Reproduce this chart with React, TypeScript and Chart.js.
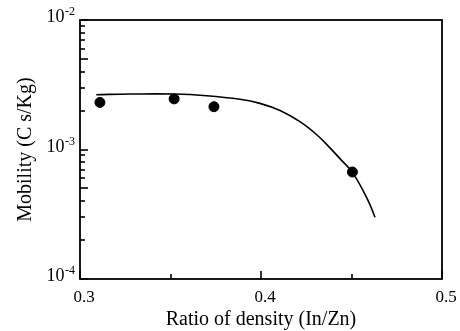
import React, { useEffect, useRef } from "react";
import { Chart, registerables } from "chart.js";

Chart.register(...registerables);

const curveX = [0.309, 0.328, 0.352, 0.37, 0.3884, 0.3994, 0.4105, 0.4215, 0.4308, 0.4381, 0.4436, 0.4507, 0.4593, 0.463];
const curveY = [2.65e-3, 2.68e-3, 2.68e-3, 2.6e-3, 2.44e-3, 2.27e-3, 2.0e-3, 1.64e-3, 1.3e-3, 1.03e-3, 8.5e-4, 6.6e-4, 4.0e-4, 3.0e-4];

const pointX = [0.311, 0.352, 0.374, 0.4505];
const pointY = [2.31e-3, 2.46e-3, 2.14e-3, 6.7e-4];

const xTickLabels = ["0.3", "0.4", "0.5"];
const xTickValues = [0.3, 0.4, 0.5];
const xMinorTicks = [0.35, 0.45];
const yDecades = [-4, -3, -2];

const xTitle = "Ratio of density (In/Zn)";
const yTitle = "Mobility (C s/Kg)";

const FONT = "'Liberation Serif', 'Times New Roman', serif";

const axesPlugin = {
  id: "customAxes",
  afterDraw(chart: any) {
    const ctx = chart.ctx as CanvasRenderingContext2D;
    const { left, right, top, bottom } = chart.chartArea;
    const xs = chart.scales.x;
    const ys = chart.scales.y;
    ctx.save();
    ctx.strokeStyle = "#000";
    ctx.fillStyle = "#000";
    ctx.lineWidth = 1.8;
    ctx.strokeRect(left, top, right - left, bottom - top);

    // y ticks
    ctx.lineWidth = 1.6;
    for (const e of yDecades) {
      for (let m = 1; m <= 9; m++) {
        const v = m * Math.pow(10, e);
        if (v < 1e-4 * 0.999 || v > 1e-2 * 1.001) continue;
        const py = Math.round(ys.getPixelForValue(v));
        const len = m === 1 || m === 5 ? 8 : 5;
        ctx.beginPath();
        ctx.moveTo(left, py);
        ctx.lineTo(left + len, py);
        ctx.stroke();
      }
    }
    // x ticks
    for (const v of xTickValues) {
      const px = Math.round(xs.getPixelForValue(v));
      ctx.beginPath();
      ctx.moveTo(px, bottom);
      ctx.lineTo(px, bottom - 8);
      ctx.stroke();
    }
    for (const v of xMinorTicks) {
      const px = Math.round(xs.getPixelForValue(v));
      ctx.beginPath();
      ctx.moveTo(px, bottom);
      ctx.lineTo(px, bottom - 5);
      ctx.stroke();
    }

    // x tick labels
    ctx.font = `17px ${FONT}`;
    ctx.textAlign = "center";
    ctx.textBaseline = "alphabetic";
    xTickValues.forEach((v, i) => {
      const px = xs.getPixelForValue(v);
      ctx.fillText(xTickLabels[i], px + 4, 302);
    });

    // y tick labels with superscripts
    for (const e of yDecades) {
      const py = ys.getPixelForValue(Math.pow(10, e));
      const sup = String(e);
      ctx.font = `12px ${FONT}`;
      ctx.textAlign = "right";
      const sw = ctx.measureText(sup).width;
      ctx.fillText(sup, left - 5, py - 5);
      ctx.font = `18px ${FONT}`;
      ctx.fillText("10", left - 5 - sw - 0.5, py + 2);
    }

    // titles
    ctx.font = `20px ${FONT}`;
    ctx.textAlign = "center";
    ctx.textBaseline = "alphabetic";
    ctx.fillText(xTitle, (left + right) / 2, 325);

    ctx.save();
    ctx.translate(31, (top + bottom) / 2);
    ctx.rotate(-Math.PI / 2);
    ctx.fillText(yTitle, 0, 0);
    ctx.restore();

    ctx.restore();
  },
};

export default function App() {
  const ref = useRef<HTMLCanvasElement>(null);
  useEffect(() => {
    document.body.style.margin = "0";
    const canvas = ref.current!;
    const chart = new Chart(canvas, {
      type: "scatter",
      data: {
        datasets: [
          {
            label: "fit",
            data: curveX.map((x, i) => ({ x, y: curveY[i] })),
            showLine: true,
            borderColor: "#000",
            borderWidth: 1.6,
            pointRadius: 0,
            tension: 0.4,
            fill: false,
          },
          {
            label: "data",
            data: pointX.map((x, i) => ({ x, y: pointY[i] })),
            backgroundColor: "#000",
            borderColor: "#000",
            pointRadius: 5,
            showLine: false,
          },
        ],
      },
      options: {
        responsive: false,
        animation: false,
        layout: { padding: { left: 80, right: 18, top: 20, bottom: 52 } },
        plugins: { legend: { display: false }, tooltip: { enabled: false } },
        scales: {
          x: { type: "linear", min: 0.3, max: 0.5, display: false },
          y: { type: "logarithmic", min: 1e-4, max: 1e-2, display: false },
        },
      },
      plugins: [axesPlugin],
    });
    return () => chart.destroy();
  }, []);
  return (
    <div style={{ width: 460, height: 331, background: "#fff" }}>
      <canvas ref={ref} width={460} height={331} />
    </div>
  );
}
